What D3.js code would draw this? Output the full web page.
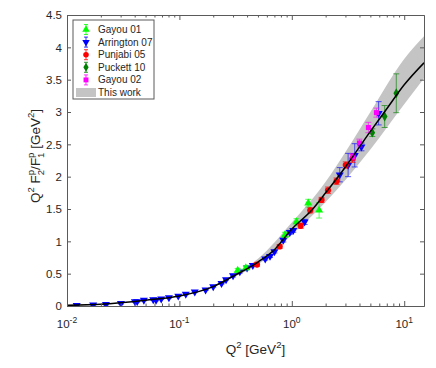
<!DOCTYPE html>
<html>
<head>
<meta charset="utf-8">
<script src="https://cdn.jsdelivr.net/npm/d3@7"></script>
<style>
  body { margin: 0; background: #fff; }
  text { font-family: "Liberation Sans", Arial, sans-serif; fill: #262626; }
</style>
</head>
<body>
<div id="chart"></div>
<script>
// data (Q2 in GeV^2, Q2 F2/F1 in GeV^2)
var gayou01Q2 = [0.33, 0.39, 0.87, 1.10, 1.40, 1.75];
var gayou01Val = [0.55, 0.59, 1.10, 1.30, 1.59, 1.48];
var gayou01Err = [0.03, 0.03, 0.04, 0.05, 0.06, 0.12];

var arringtonQ2 = [0.0122, 0.0171, 0.0222, 0.0302, 0.0402, 0.0421, 0.0483, 0.0585, 0.062, 0.0689,
  0.0807, 0.0977, 0.114, 0.137, 0.171, 0.20, 0.237, 0.26, 0.30, 0.345, 0.40, 0.45, 0.58, 0.64,
  0.70, 0.84, 0.96, 1.03, 1.30, 2.67, 3.17, 3.63, 4.16, 5.92];
var arringtonVal = [0.01, 0.02, 0.026, 0.04, 0.07, 0.07, 0.09, 0.10, 0.09, 0.11,
  0.13, 0.155, 0.185, 0.22, 0.25, 0.30, 0.35, 0.41, 0.47, 0.53, 0.59, 0.63, 0.73, 0.77,
  0.84, 1.02, 1.14, 1.17, 1.30, 2.03, 2.18, 2.33, 2.46, 2.98];
var arringtonErr = [0.01, 0.01, 0.01, 0.01, 0.01, 0.01, 0.01, 0.01, 0.01, 0.01,
  0.01, 0.01, 0.01, 0.01, 0.01, 0.01, 0.01, 0.01, 0.02, 0.02, 0.02, 0.02, 0.02, 0.02,
  0.02, 0.03, 0.03, 0.03, 0.04, 0.11, 0.18, 0.18, 0.06, 0.18];

var punjabiQ2 = [0.49, 0.78, 1.20, 1.46, 1.84, 2.10, 2.50, 3.02, 3.47];
var punjabiVal = [0.64, 0.92, 1.24, 1.48, 1.64, 1.79, 1.93, 2.18, 2.28];
var punjabiErr = [0.03, 0.03, 0.04, 0.04, 0.04, 0.05, 0.05, 0.05, 0.06];

var puckettQ2 = [5.2, 6.7, 8.5];
var puckettVal = [2.68, 2.93, 3.29];
var puckettErr = [0.06, 0.17, 0.30];

var gayou02Q2 = [3.5, 4.0, 4.8, 5.66];
var gayou02Val = [2.31, 2.52, 2.76, 2.99];
var gayou02Err = [0.05, 0.06, 0.08, 0.07];

// "This work" curve and its uncertainty band
var curveQ2 = [0.01, 0.02, 0.05, 0.1, 0.2, 0.3, 0.5, 0.7, 1, 1.5, 2, 3, 5, 7, 10, 15];
var curveVal = [0.01, 0.027, 0.09, 0.155, 0.30, 0.46, 0.68, 0.87, 1.19, 1.48, 1.75, 2.15, 2.70, 3.05, 3.42, 3.76];
var bandQ2 = [0.2, 0.3, 0.5, 1, 2, 3, 5, 10, 15];
var bandUpper = [0.305, 0.48, 0.73, 1.29, 1.92, 2.38, 3.00, 3.82, 4.17];
var bandLower = [0.295, 0.44, 0.64, 1.10, 1.61, 1.95, 2.42, 3.12, 3.52];

var legendNames = ["Gayou 01", "Arrington 07", "Punjabi 05", "Puckett 10", "Gayou 02", "This work"];
var yTicks = [0, 0.5, 1, 1.5, 2, 2.5, 3, 3.5, 4, 4.5];
var xTicks = [0.01, 0.1, 1, 10];

// svg container
var svgWidth = 436;
var svgHeight = 368;
var margin = { top: 15, right: 12, bottom: 62, left: 67 };
var width = svgWidth - margin.left - margin.right;
var height = svgHeight - margin.top - margin.bottom;

var svg = d3.select("#chart").append("svg")
  .attr("width", svgWidth)
  .attr("height", svgHeight);

var chartGroup = svg.append("g")
  .attr("transform", `translate(${margin.left}, ${margin.top})`);

// scales
var xScale = d3.scaleLog().domain([0.01, 15]).range([0, width]);
var yScale = d3.scaleLinear().domain([0, 4.5]).range([height, 0]);

svg.append("defs").append("clipPath").attr("id", "plotClip")
  .append("rect").attr("width", width).attr("height", height);

var plotArea = chartGroup.append("g").attr("clip-path", "url(#plotClip)");

// band
var bandData = bandQ2.map((q, i) => ({ q: q, lo: bandLower[i], hi: bandUpper[i] }));
var bandArea = d3.area()
  .x(d => xScale(d.q))
  .y0(d => yScale(d.lo))
  .y1(d => yScale(d.hi))
  .curve(d3.curveMonotoneX);
plotArea.append("path")
  .datum(bandData)
  .attr("d", bandArea)
  .attr("fill", "#c4c4c4");

// data series with error bars
function drawSeries(q2, vals, errs, color, shape, size) {
  var data = q2.map((q, i) => ({ q: q, v: vals[i], e: errs[i] }));
  var g = plotArea.append("g");
  var eb = g.selectAll(".err").data(data).enter().append("g")
    .attr("stroke", color).attr("stroke-width", 0.8).attr("opacity", 0.8);
  eb.append("line")
    .attr("x1", d => xScale(d.q)).attr("x2", d => xScale(d.q))
    .attr("y1", d => yScale(d.v - d.e)).attr("y2", d => yScale(d.v + d.e));
  eb.append("line")
    .attr("x1", d => xScale(d.q) - 3).attr("x2", d => xScale(d.q) + 3)
    .attr("y1", d => yScale(d.v - d.e)).attr("y2", d => yScale(d.v - d.e));
  eb.append("line")
    .attr("x1", d => xScale(d.q) - 3).attr("x2", d => xScale(d.q) + 3)
    .attr("y1", d => yScale(d.v + d.e)).attr("y2", d => yScale(d.v + d.e));
  g.selectAll(".pt").data(data).enter().append("path")
    .attr("d", d3.symbol().type(shape).size(size))
    .attr("transform", d => `translate(${xScale(d.q)},${yScale(d.v)})` + (shape === d3.symbolTriangle && color === "#0000ff" ? " rotate(180)" : ""))
    .attr("fill", color);
}

drawSeries(arringtonQ2, arringtonVal, arringtonErr, "#0000ff", d3.symbolTriangle, 28);
drawSeries(gayou01Q2, gayou01Val, gayou01Err, "#00ff00", d3.symbolTriangle, 28);
drawSeries(punjabiQ2, punjabiVal, punjabiErr, "#ff0000", d3.symbolCircle, 30);
drawSeries(puckettQ2, puckettVal, puckettErr, "#008000", d3.symbolDiamond, 28);
drawSeries(gayou02Q2, gayou02Val, gayou02Err, "#ff00ff", d3.symbolSquare, 26);

// curve
var curveData = curveQ2.map((q, i) => ({ q: q, v: curveVal[i] }));
plotArea.append("path")
  .datum(curveData)
  .attr("d", d3.line().x(d => xScale(d.q)).y(d => yScale(d.v)).curve(d3.curveMonotoneX))
  .attr("fill", "none")
  .attr("stroke", "#000")
  .attr("stroke-width", 1.5);

// axes (ticks pointing inward, box on)
var minorTicks = [];
[0.01, 0.1, 1, 10].forEach(function(dec) {
  for (var k = 2; k <= 9; k++) {
    if (dec * k <= 15) minorTicks.push(dec * k);
  }
});

function styleAxis(g) {
  g.selectAll("path").attr("stroke", "#5a5a5a");
  g.selectAll("line").attr("stroke", "#5a5a5a");
}

chartGroup.append("g")
  .attr("transform", `translate(0, ${height})`)
  .call(d3.axisBottom(xScale).tickValues(minorTicks).tickSize(-2.5).tickSizeOuter(0).tickFormat(""))
  .call(styleAxis);
chartGroup.append("g")
  .attr("transform", `translate(0, ${height})`)
  .call(d3.axisBottom(xScale).tickValues(xTicks).tickSize(-5).tickSizeOuter(0).tickFormat(""))
  .call(styleAxis);
chartGroup.append("g")
  .call(d3.axisTop(xScale).tickValues(minorTicks).tickSize(-2.5).tickSizeOuter(0).tickFormat(""))
  .call(styleAxis);
chartGroup.append("g")
  .call(d3.axisTop(xScale).tickValues(xTicks).tickSize(-5).tickSizeOuter(0).tickFormat(""))
  .call(styleAxis);

var leftAxis = chartGroup.append("g")
  .call(d3.axisLeft(yScale).tickValues(yTicks).tickSize(-4).tickSizeOuter(0).tickPadding(5).tickFormat(d3.format("")))
  .call(styleAxis);
leftAxis.selectAll("text").attr("font-size", 11.5).style("font-family", "'Liberation Sans', Arial, sans-serif").attr("fill", "#262626");
chartGroup.append("g")
  .attr("transform", `translate(${width}, 0)`)
  .call(d3.axisRight(yScale).tickValues(yTicks).tickSize(-4).tickSizeOuter(0).tickFormat(""))
  .call(styleAxis);

// x tick labels 10^n
var xLab = chartGroup.selectAll(".xlab").data(xTicks).enter().append("text")
  .attr("x", d => xScale(d))
  .attr("y", height + 22)
  .attr("text-anchor", "middle")
  .attr("font-size", 11.5);
xLab.append("tspan").text("10");
xLab.append("tspan").attr("dy", -5).attr("font-size", 8.5).text(d => Math.round(Math.log10(d)));

// axis labels
var xTitle = chartGroup.append("text")
  .attr("x", width / 2 + 10)
  .attr("y", height + 48)
  .attr("text-anchor", "middle")
  .attr("font-size", 13.5);
xTitle.append("tspan").text("Q");
xTitle.append("tspan").attr("dy", -6).attr("font-size", 9.5).text("2");
xTitle.append("tspan").attr("dy", 6).text(" [GeV");
xTitle.append("tspan").attr("dy", -6).attr("font-size", 9.5).text("2");
xTitle.append("tspan").attr("dy", 6).text("]");

var yTitle = svg.append("text")
  .attr("transform", "translate(40, 156) rotate(-90)")
  .attr("text-anchor", "middle")
  .attr("font-size", 13.5);
yTitle.append("tspan").text("Q");
yTitle.append("tspan").attr("dy", -6).attr("font-size", 9.5).text("2");
yTitle.append("tspan").attr("dy", 6).text(" F");
yTitle.append("tspan").attr("dy", -6).attr("font-size", 9.5).text("p");
yTitle.append("tspan").attr("dx", -5.3).attr("dy", 10).attr("font-size", 9.5).text("2");
yTitle.append("tspan").attr("dy", -4).text("/F");
yTitle.append("tspan").attr("dy", -6).attr("font-size", 9.5).text("p");
yTitle.append("tspan").attr("dx", -5.3).attr("dy", 10).attr("font-size", 9.5).text("1");
yTitle.append("tspan").attr("dy", -4).text(" [GeV");
yTitle.append("tspan").attr("dy", -6).attr("font-size", 9.5).text("2");
yTitle.append("tspan").attr("dy", 6).text("]");

// legend
var legend = chartGroup.append("g").attr("transform", "translate(6, 5)");
legend.append("rect")
  .attr("width", 81).attr("height", 79)
  .attr("fill", "#fff").attr("stroke", "#5a5a5a").attr("stroke-width", 1);
var legendColors = ["#00ff00", "#0000ff", "#ff0000", "#008000", "#ff00ff"];
var legendShapes = [d3.symbolTriangle, d3.symbolTriangle, d3.symbolCircle, d3.symbolDiamond, d3.symbolSquare];
var rowY = d3.scaleLinear().domain([0, 5]).range([9.5, 72.5]);
legendNames.forEach(function(name, i) {
  var row = legend.append("g").attr("transform", `translate(0, ${rowY(i)})`);
  if (i < 5) {
    row.append("line").attr("x1", 13).attr("x2", 13).attr("y1", -5).attr("y2", 5)
      .attr("stroke", legendColors[i]).attr("stroke-width", 0.8);
    row.append("line").attr("x1", 11).attr("x2", 15).attr("y1", -5).attr("y2", -5)
      .attr("stroke", legendColors[i]).attr("stroke-width", 0.8);
    row.append("line").attr("x1", 11).attr("x2", 15).attr("y1", 5).attr("y2", 5)
      .attr("stroke", legendColors[i]).attr("stroke-width", 0.8);
    row.append("path")
      .attr("d", d3.symbol().type(legendShapes[i]).size(24))
      .attr("transform", "translate(13, 0)" + (i === 1 ? " rotate(180)" : ""))
      .attr("fill", legendColors[i]);
  } else {
    row.append("rect").attr("x", 3).attr("y", -4.5).attr("width", 20).attr("height", 9)
      .attr("fill", "#c4c4c4");
  }
  row.append("text")
    .attr("x", 25)
    .attr("y", 3.5)
    .attr("font-size", 10)
    .text(name);
});
</script>
</body>
</html>
